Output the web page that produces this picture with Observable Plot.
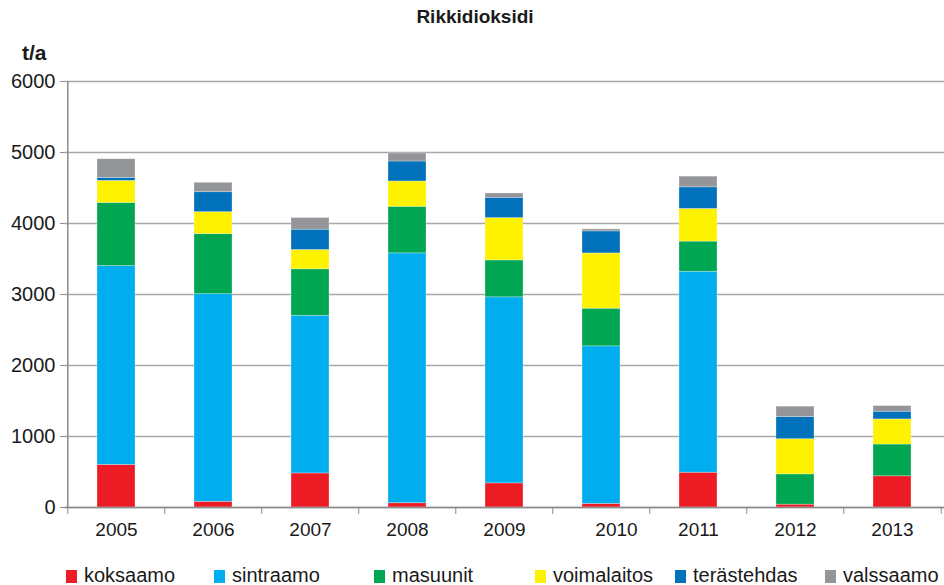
<!DOCTYPE html>
<html>
<head>
<meta charset="utf-8">
<script src="https://cdn.jsdelivr.net/npm/d3@7"></script>
<script src="https://cdn.jsdelivr.net/npm/@observablehq/plot@0.6"></script>
<style>
  body { margin: 0; background: #fff; }
  #chart { position: relative; width: 944px; height: 585px; font-family: "Liberation Sans", Arial, sans-serif; color: #1a1a1a; }
  #chart svg { position: absolute; left: 0; top: 0; }
  .title { position: absolute; left: 0; width: 950px; top: 6px; text-align: center; font-size: 19px; font-weight: bold; }
  .unit { position: absolute; left: 22px; top: 41px; font-size: 21px; font-weight: bold; }
  .legend-item { position: absolute; top: 565px; font-size: 20px; line-height: 20px; white-space: nowrap; }
  .legend-item i { display: inline-block; width: 11px; height: 13px; margin-right: 7px; vertical-align: -1px; }
</style>
</head>
<body>
<div id="chart">
  <div class="title">Rikkidioksidi</div>
  <div class="unit">t/a</div>
</div>
<script>
// Rikkidioksidipäästöt lähteittäin (t/a)
const years = [2005, 2006, 2007, 2008, 2009, 2010, 2011, 2012, 2013];
const sources = ["koksaamo", "sintraamo", "masuunit", "voimalaitos", "terästehdas", "valssaamo"];
const koksaamo    = [600,   80,  480,   60,  340,   50,  490,  40, 440];
const sintraamo   = [2800, 2925, 2220, 3520, 2620, 2220, 2830,   0,   0];
const masuunit    = [890,  845,  655,  655,  520,  530,  425, 427, 447];
const voimalaitos = [310,  310,  272,  357,  596,  779,  460, 495, 354];
const terastehdas = [42,   281,  286,  281,  286,  310,  305, 312, 108];
const valssaamo   = [263,  132,  165,  113,   61,   28,  150, 146,  80];
const sourceColors = ["#ed1c24", "#00aeef", "#00a651", "#fff200", "#0072bc", "#939598"];
const yTicks = [0, 1000, 2000, 3000, 4000, 5000, 6000];

const series = [koksaamo, sintraamo, masuunit, voimalaitos, terastehdas, valssaamo];
const rows = [];
years.forEach((year, i) => {
  sources.forEach((source, j) => rows.push({year, source, value: series[j][i]}));
});

const width = 944, marginLeft = 65, marginRight = 2;
const pInner = 0.61, pOuter = pInner / 2;
const step = (width - marginLeft - marginRight) / (years.length - pInner + 2 * pOuter);
const half = step / 2;
const axisGray = "#8c8c8c";
const labelFont = 19;
const plain = d => String(d);

const chart = Plot.plot({
  width,
  height: 585,
  marginTop: 81,
  marginBottom: 78,
  marginLeft,
  marginRight,
  style: {fontFamily: "'Liberation Sans', Arial, sans-serif", background: "transparent", overflow: "visible"},
  x: {type: "band", domain: years, paddingInner: pInner, paddingOuter: pOuter, label: null},
  y: {domain: [0, 6000], label: null},
  color: {domain: sources, range: sourceColors},
  marks: [
    Plot.gridY(yTicks, {stroke: "#a8a8a8", strokeOpacity: 1, strokeWidth: 1.6, insetRight: -2}),
    Plot.barY(rows, {x: "year", y: "value", fill: "source", order: sources, stroke: "#ffffff", strokeOpacity: 0.35, strokeWidth: 0.8}),
    Plot.ruleY([0], {stroke: axisGray, strokeWidth: 1.6, insetRight: -2}),
    Plot.ruleX([years[0]], {y1: 0, y2: 6000, dx: -half, stroke: axisGray, strokeWidth: 1.5}),
    Plot.axisY(yTicks, {label: null, tickSize: 5, tickPadding: 5, fontSize: 20, tickFormat: plain, stroke: axisGray, fill: "#1a1a1a"}),
    Plot.axisX(years, {label: null, tickSize: 7, tickFormat: () => "", dx: -half, stroke: axisGray}),
    Plot.axisX([years[years.length - 1]], {label: null, tickSize: 7, tickFormat: () => "", dx: half, stroke: axisGray}),
    Plot.axisX(years.filter(y => y !== 2010), {label: null, tickSize: 0, tickPadding: 15, fontSize: labelFont, tickFormat: plain, fill: "#1a1a1a"}),
    Plot.axisX([2010], {label: null, tickSize: 0, tickPadding: 15, fontSize: labelFont, tickFormat: plain, fill: "#1a1a1a", dx: 15})
  ]
});

const root = document.getElementById("chart");
root.insertBefore(chart, root.firstChild);

// Selite
const legendLeft = [66, 214, 374, 535, 675, 825];
sources.forEach((s, i) => {
  const item = document.createElement("div");
  item.className = "legend-item";
  item.style.left = legendLeft[i] + "px";
  const sw = document.createElement("i");
  sw.style.background = sourceColors[i];
  item.appendChild(sw);
  item.appendChild(document.createTextNode(s));
  root.appendChild(item);
});
</script>
</body>
</html>
